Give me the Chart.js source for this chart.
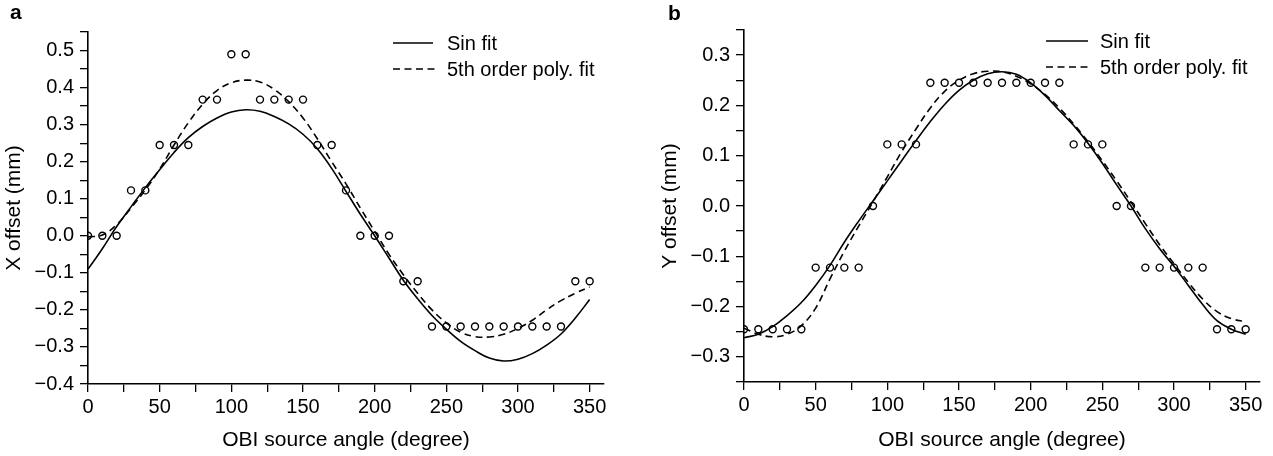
<!DOCTYPE html>
<html>
<head>
<meta charset="utf-8">
<script src="https://cdn.jsdelivr.net/npm/chart.js@4.4.1/dist/chart.umd.min.js"></script>
<style>
  html, body { margin: 0; padding: 0; background: #fff; }
  #wrap { position: relative; width: 1273px; height: 456px; overflow: hidden; }
  .panel { position: absolute; top: 0; height: 456px; }
  #pa { left: 0; width: 636px; }
  #pb { left: 636px; width: 637px; }
</style>
</head>
<body>
<div id="wrap">
  <div class="panel" id="pa"><canvas id="ca" width="636" height="456"></canvas></div>
  <div class="panel" id="pb"><canvas id="cb" width="637" height="456"></canvas></div>
</div>
<script>
// ---- data ----
const angles = [0,10,20,30,40,50,60,70,80,90,100,110,120,130,140,150,160,170,
                180,190,200,210,220,230,240,250,260,270,280,290,300,310,320,330,340,350];

// Panel a: X offset (mm)
const xMeasured = [0,0,0,0.1225,0.1225,0.245,0.245,0.245,0.3675,0.3675,0.49,0.49,
                   0.3675,0.3675,0.3675,0.3675,0.245,0.245,0.1225,0,0,0,-0.1225,-0.1225,
                   -0.245,-0.245,-0.245,-0.245,-0.245,-0.245,-0.245,-0.245,-0.245,-0.245,-0.1225,-0.1225];
const xSinFit = [-0.09,-0.035,0.025,0.078,0.13,0.178,0.225,0.265,0.295,0.318,0.334,0.34,
                 0.336,0.322,0.302,0.274,0.235,0.182,0.12,0.058,0.0,-0.06,-0.12,-0.17,
                 -0.215,-0.252,-0.285,-0.31,-0.33,-0.338,-0.333,-0.318,-0.295,-0.265,-0.222,-0.172];
const xPolyFit = [-0.003,0.002,0.03,0.075,0.124,0.18,0.245,0.305,0.355,0.392,0.413,0.42,
                  0.415,0.395,0.362,0.318,0.262,0.2,0.14,0.075,0.012,-0.05,-0.105,-0.155,
                  -0.2,-0.235,-0.26,-0.272,-0.273,-0.266,-0.25,-0.228,-0.2,-0.175,-0.155,-0.138];

// Panel b: Y offset (mm)
const yMeasured = [-0.245,-0.245,-0.245,-0.245,-0.245,-0.1225,-0.1225,-0.1225,-0.1225,0,0.1225,0.1225,
                   0.1225,0.245,0.245,0.245,0.245,0.245,0.245,0.245,0.245,0.245,0.245,0.1225,
                   0.1225,0.1225,0,0,-0.1225,-0.1225,-0.1225,-0.1225,-0.1225,-0.245,-0.245,-0.245];
const ySinFit = [-0.262,-0.255,-0.24,-0.218,-0.192,-0.158,-0.118,-0.072,-0.03,0.01,0.05,0.09,
                 0.13,0.168,0.202,0.23,0.25,0.263,0.267,0.262,0.245,0.22,0.19,0.16,
                 0.125,0.085,0.042,0.0,-0.045,-0.085,-0.12,-0.158,-0.196,-0.228,-0.245,-0.255];
const yPolyFit = [-0.243,-0.255,-0.26,-0.255,-0.238,-0.203,-0.145,-0.09,-0.04,0.008,0.058,0.108,
                  0.153,0.195,0.228,0.25,0.263,0.268,0.267,0.258,0.243,0.222,0.195,0.163,
                  0.128,0.09,0.05,0.008,-0.035,-0.077,-0.115,-0.152,-0.185,-0.21,-0.224,-0.23];

const legendLabels = ['Sin fit', '5th order poly. fit'];
const panelLetters = ['a', 'b'];
const xTitle = 'OBI source angle (degree)';
const yTitles = ['X offset (mm)', 'Y offset (mm)'];

// ---- helpers ----
const FONT = "'Liberation Sans', Arial, Helvetica, sans-serif";
const pts = (ys) => angles.map((a, i) => ({ x: a, y: ys[i] }));

function fmtY(v) {
  const r = Math.round(v * 100) / 100;
  if (Math.abs(r * 10 - Math.round(r * 10)) > 1e-6) return '';
  const s = (Math.round(r * 10) / 10).toFixed(1);
  return s.replace('-', '\u2212');
}
function fmtX(v) {
  return (Math.abs(v % 50) < 1e-6) ? String(v) : '';
}

function makeChart(canvasId, cfg) {
  const legendPlugin = {
    id: 'customLegend',
    afterDraw(chart) {
      const ctx = chart.ctx;
      ctx.save();
      ctx.fillStyle = '#000';
      ctx.strokeStyle = '#000';
      ctx.font = 'bold 21px ' + FONT;
      ctx.textBaseline = 'middle';
      ctx.textAlign = 'left';
      ctx.fillText(cfg.letter, cfg.letterX, cfg.letterY);
      ctx.font = '20px ' + FONT;
      const L = cfg.legend;
      ctx.lineWidth = 1.6;
      ctx.setLineDash([]);
      ctx.beginPath(); ctx.moveTo(L.x0, L.y1); ctx.lineTo(L.x1, L.y1); ctx.stroke();
      ctx.setLineDash([7, 4.5]);
      ctx.beginPath(); ctx.moveTo(L.x0, L.y2); ctx.lineTo(L.x1 + 2, L.y2); ctx.stroke();
      ctx.setLineDash([]);
      ctx.fillText(legendLabels[0], L.tx, L.y1 + 1);
      ctx.fillText(legendLabels[1], L.tx, L.y2 + 1);
      ctx.restore();
    }
  };

  return new Chart(document.getElementById(canvasId), {
    type: 'scatter',
    data: {
      datasets: [
        {
          label: 'measured',
          data: pts(cfg.measured),
          showLine: false,
          pointStyle: 'circle',
          pointRadius: 3.5,
          pointBorderWidth: 1.4,
          pointBorderColor: '#000',
          pointBackgroundColor: 'rgba(255,255,255,0)',
          order: 1
        },
        {
          label: legendLabels[0],
          data: pts(cfg.sin),
          showLine: true,
          borderColor: '#000',
          borderWidth: 1.6,
          pointRadius: 0,
          tension: 0.4,
          fill: false,
          order: 2
        },
        {
          label: legendLabels[1],
          data: pts(cfg.poly),
          showLine: true,
          borderColor: '#000',
          borderWidth: 1.6,
          borderDash: [7, 4.5],
          pointRadius: 0,
          tension: 0.4,
          fill: false,
          order: 3
        }
      ]
    },
    options: {
      responsive: false,
      animation: false,
      devicePixelRatio: 1,
      layout: { padding: { left: cfg.padLeft, right: cfg.padRight, top: cfg.padTop, bottom: 0 } },
      plugins: { legend: { display: false }, tooltip: { enabled: false } },
      scales: {
        x: {
          type: 'linear',
          min: 0, max: 360,
          ticks: {
            stepSize: 25, includeBounds: false, autoSkip: false, maxRotation: 0,
            color: '#000', font: { family: FONT, size: 20 }, padding: 3,
            callback: fmtX
          },
          grid: { drawOnChartArea: false, drawTicks: true, tickLength: 8, color: '#000', lineWidth: 1.3 },
          border: { display: true, color: '#000', width: 1.6 },
          title: { display: true, text: xTitle, color: '#000',
                   font: { family: FONT, size: 21 }, padding: { top: 0, bottom: 3 } },
          afterFit(s) { s.height = cfg.xAxisH; }
        },
        y: {
          type: 'linear',
          min: cfg.yMin, max: cfg.yMax,
          ticks: {
            stepSize: 0.05, includeBounds: false, autoSkip: false,
            color: '#000', font: { family: FONT, size: 20 }, padding: 6,
            callback: fmtY
          },
          grid: { drawOnChartArea: false, drawTicks: true, tickLength: 8, color: '#000', lineWidth: 1.3 },
          border: { display: true, color: '#000', width: 1.6 },
          title: { display: true, text: cfg.yTitle, color: '#000',
                   font: { family: FONT, size: 21 }, padding: { top: 2, bottom: 0 } },
          afterFit(s) { s.width = cfg.yAxisW; }
        }
      }
    },
    plugins: [legendPlugin]
  });
}

makeChart('ca', {
  measured: xMeasured, sin: xSinFit, poly: xPolyFit,
  yMin: -0.4, yMax: 0.55, yTitle: yTitles[0],
  padLeft: 0, padRight: 32, padTop: 32, yAxisW: 88, xAxisH: 72,
  letter: panelLetters[0], letterX: 10, letterY: 13,
  legend: { x0: 393, x1: 433, tx: 447, y1: 43, y2: 69 }
});

makeChart('cb', {
  measured: yMeasured, sin: ySinFit, poly: yPolyFit,
  yMin: -0.35, yMax: 0.35, yTitle: yTitles[1],
  padLeft: 20, padRight: 13, padTop: 30, yAxisW: 88, xAxisH: 74,
  letter: panelLetters[1], letterX: 32, letterY: 14,
  legend: { x0: 410, x1: 452, tx: 464, y1: 41, y2: 67 }
});
</script>
</body>
</html>
